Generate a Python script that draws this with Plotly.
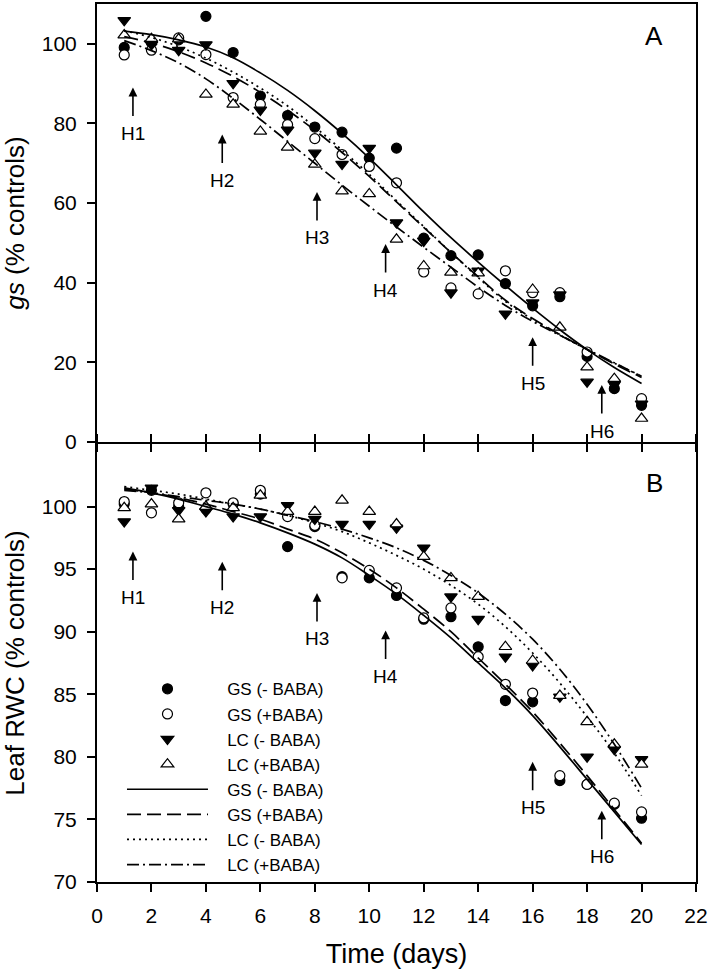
import plotly.graph_objects as go

days = list(range(1, 21))
series_names = ["GS (- BABA)", "GS (+BABA)", "LC (- BABA)", "LC (+BABA)"]

# ---- Panel A: gs (% controls), observed ----
a_gs_minus = [99.1, 100.3, 101.0, 106.9, 97.8, 86.9, 82.0, 79.1, 77.8, 71.3, 73.8, 51.2, 46.8, 47.0, 39.8, 34.2, 36.5, 21.5, 13.4, 9.2]
a_gs_plus = [97.2, 98.4, 101.5, 97.3, 86.5, 84.8, 79.7, 76.2, 72.2, 69.2, 65.1, 42.7, 38.7, 37.2, 43.0, 37.5, 37.5, 22.6, 15.0, 10.9]
a_lc_minus = [105.9, 99.8, 98.4, 99.8, 90.1, 83.4, 78.4, 72.6, 69.8, 73.8, 55.1, 50.5, 37.5, 43.0, 32.2, 35.0, 37.0, 15.1, 14.5, 9.6]
a_lc_plus = [102.2, 101.3, 101.2, 87.3, 84.8, 78.0, 74.0, 69.7, 63.0, 62.3, 50.9, 44.2, 42.6, 42.4, None, 38.3, 28.8, 18.8, 15.9, 5.9]

# ---- Panel A: fitted curves ----
a_fit_gs_minus = [103.2, 102.3, 101.0, 99.2, 96.5, 92.7, 88.3, 83.2, 77.5, 71.3, 64.6, 57.8, 51.3, 45.2, 39.3, 33.6, 28.2, 23.2, 18.7, 14.7]
a_fit_gs_plus = [101.8, 100.2, 98.0, 95.2, 91.8, 87.8, 83.3, 78.3, 72.7, 66.7, 60.3, 53.9, 47.6, 41.5, 35.6, 31.0, 27.0, 23.2, 19.6, 16.2]
a_fit_lc_minus = [103.3, 101.6, 99.3, 96.4, 92.9, 88.9, 84.4, 79.1, 73.3, 67.2, 60.6, 54.1, 47.6, 41.3, 35.3, 30.8, 26.9, 23.2, 19.8, 16.5]
a_fit_lc_plus = [100.8, 98.3, 95.2, 91.2, 86.3, 81.0, 75.5, 70.0, 64.5, 59.2, 54.0, 48.9, 43.9, 38.9, 34.3, 30.3, 26.8, 23.3, 19.9, 16.5]

# ---- Panel B: leaf RWC (% controls), observed ----
b_gs_minus = [100.2, 101.3, 100.0, 99.8, 100.2, 101.0, 96.8, 98.4, 94.4, 94.3, 92.9, 91.0, 91.2, 88.8, 84.5, 84.4, 78.1, 77.8, 76.2, 75.1]
b_gs_plus = [100.4, 99.5, 100.3, 101.1, 100.3, 101.3, 99.2, 98.5, 94.3, 94.9, 93.5, 91.1, 91.9, 88.0, 85.8, 85.1, 78.5, 77.8, 76.3, 75.6]
b_lc_minus = [98.8, 101.5, 99.7, 99.6, 99.2, 99.2, 100.1, 99.0, 98.6, 98.6, 98.3, 96.7, 92.8, 91.0, 88.0, 87.3, 84.8, 80.0, 80.6, 79.8]
b_lc_plus = [99.9, 100.2, 99.0, 100.0, 99.9, 100.9, 99.6, 99.6, 100.5, 99.6, 98.6, 96.0, 94.3, 92.8, 88.8, 87.7, 84.9, 82.8, 81.0, 79.4]

# ---- Panel B: fitted curves ----
b_fit_gs_minus = [101.5, 101.1, 100.6, 100.0, 99.4, 98.7, 97.9, 97.0, 95.9, 94.5, 93.0, 91.3, 89.5, 87.5, 85.5, 83.3, 80.8, 78.2, 75.6, 73.0]
b_fit_gs_plus = [101.4, 101.1, 100.7, 100.2, 99.6, 99.0, 98.2, 97.4, 96.3, 95.0, 93.5, 91.8, 90.0, 87.9, 85.8, 83.6, 81.1, 78.5, 75.8, 73.1]
b_fit_lc_minus = [101.6, 101.3, 101.0, 100.6, 100.2, 99.8, 99.3, 98.7, 98.0, 97.1, 96.1, 95.0, 93.7, 92.2, 90.4, 88.3, 85.9, 83.2, 80.3, 76.9]
b_fit_lc_plus = [101.3, 101.1, 100.8, 100.5, 100.2, 99.8, 99.3, 98.8, 98.2, 97.5, 96.7, 95.7, 94.5, 93.1, 91.4, 89.4, 87.0, 84.2, 81.0, 77.5]

# ---- Harvest arrows ----
harvest_labels = ["H1", "H2", "H3", "H4", "H5", "H6"]
harvest_days = [1.32, 4.6, 8.08, 10.6, 16.0, 18.54]
a_arrow_y = [89.0, 77.2, 62.8, 49.7, 26.3, 14.3]
b_arrow_y = [96.4, 95.6, 93.1, 90.1, 79.6, 75.7]

x_ticks = list(range(0, 23, 2))
a_ticks = [0, 20, 40, 60, 80, 100]
b_ticks = [70, 75, 80, 85, 90, 95, 100]

FONT = "Arial, Liberation Sans, sans-serif"
PAD = "\u00a0\u00a0\u00a0"  # visual gap between legend key and label

marker_styles = [
    dict(symbol="circle", color="black", size=10, line=dict(color="black", width=1.2)),
    dict(symbol="circle", color="white", size=10, line=dict(color="black", width=1.2)),
    dict(symbol="triangle-down", color="black", size=11, line=dict(color="black", width=1.2)),
    dict(symbol="triangle-up", color="white", size=11, line=dict(color="black", width=1.2)),
]
line_dashes = ["solid", "14px,6px", "2px,4px", "12px,4px,2px,4px"]

fig = go.Figure()

panels = [
    ("x", "y", [a_gs_minus, a_gs_plus, a_lc_minus, a_lc_plus],
     [a_fit_gs_minus, a_fit_gs_plus, a_fit_lc_minus, a_fit_lc_plus], False),
    ("x2", "y2", [b_gs_minus, b_gs_plus, b_lc_minus, b_lc_plus],
     [b_fit_gs_minus, b_fit_gs_plus, b_fit_lc_minus, b_fit_lc_plus], True),
]

for xa, ya, obs, fits, show in panels:
    for name, vals, ms in zip(series_names, obs, marker_styles):
        fig.add_trace(go.Scatter(x=days, y=vals, mode="markers", name=PAD + name,
                                 marker=ms, xaxis=xa, yaxis=ya, showlegend=show,
                                 cliponaxis=False))
    for name, vals, dash in zip(series_names, fits, line_dashes):
        fig.add_trace(go.Scatter(x=days, y=vals, mode="lines", name=PAD + name,
                                 line=dict(color="black", width=1.7, dash=dash, shape="spline", smoothing=1.0),
                                 xaxis=xa, yaxis=ya, showlegend=show))

annotations = []
for (xr, yr, ys) in [("x", "y", a_arrow_y), ("x2", "y2", b_arrow_y)]:
    for lab, d, yv in zip(harvest_labels, harvest_days, ys):
        annotations.append(dict(x=d, y=yv, xref=xr, yref=yr, text="", showarrow=True,
                                ax=0, ay=30, arrowhead=2, arrowsize=1.1, arrowwidth=1.6,
                                arrowcolor="black"))
        annotations.append(dict(x=d, y=yv, xref=xr, yref=yr, text=lab, showarrow=False,
                                yshift=-46, yanchor="middle", xanchor="center",
                                font=dict(size=19, color="black", family=FONT)))

annotations.append(dict(x=0.930, y=0.963, xref="paper", yref="paper", text="A", showarrow=False,
                        xanchor="center", yanchor="middle",
                        font=dict(size=26, color="black", family=FONT)))
annotations.append(dict(x=0.930, y=0.455, xref="paper", yref="paper", text="B", showarrow=False,
                        xanchor="center", yanchor="middle",
                        font=dict(size=26, color="black", family=FONT)))

axis_common = dict(showline=True, linecolor="black", linewidth=2, showgrid=False, zeroline=False,
                   ticks="outside", ticklen=8, tickwidth=1.8, tickcolor="black",
                   tickfont=dict(size=21, color="black", family=FONT))

gap = 1.0 / 880  # half of the axis line width, so the shared border lines coincide

fig.update_layout(
    width=710, height=973,
    margin=dict(l=97, r=13, t=2, b=91),
    paper_bgcolor="white", plot_bgcolor="white",
    font=dict(family=FONT, color="black"),
    xaxis=dict(**axis_common, domain=[0, 1], anchor="y", range=[0, 22], tickvals=x_ticks,
               showticklabels=False, mirror=True),
    yaxis=dict(**axis_common, domain=[0.5 + gap, 1], anchor="x", range=[0, 110], tickvals=a_ticks,
               mirror=True, ticklabelstandoff=6,
               title=dict(text="<i>gs</i> (% controls)", font=dict(size=26, family=FONT), standoff=10)),
    xaxis2=dict(**axis_common, domain=[0, 1], anchor="y2", range=[0, 22], tickvals=x_ticks,
                mirror="ticks", ticklabelstandoff=6,
                title=dict(text="Time (days)", font=dict(size=27, family=FONT), standoff=18)),
    yaxis2=dict(**axis_common, domain=[0, 0.5 - gap], anchor="x2", range=[70, 105], tickvals=b_ticks,
                mirror=True, ticklabelstandoff=6,
                title=dict(text="Leaf RWC (% controls)", font=dict(size=26, family=FONT), standoff=10)),
    legend=dict(x=0.0417, y=0.24, xref="paper", yref="paper", xanchor="left", yanchor="top",
                bgcolor="rgba(0,0,0,0)", font=dict(size=17, color="black", family=FONT),
                itemwidth=81, tracegroupgap=0, traceorder="normal"),
    annotations=annotations,
    showlegend=True,
)

fig.write_html("out.html", config={"displayModeBar": False},
               post_script="document.body.style.margin='0';document.body.style.overflow='hidden';")
